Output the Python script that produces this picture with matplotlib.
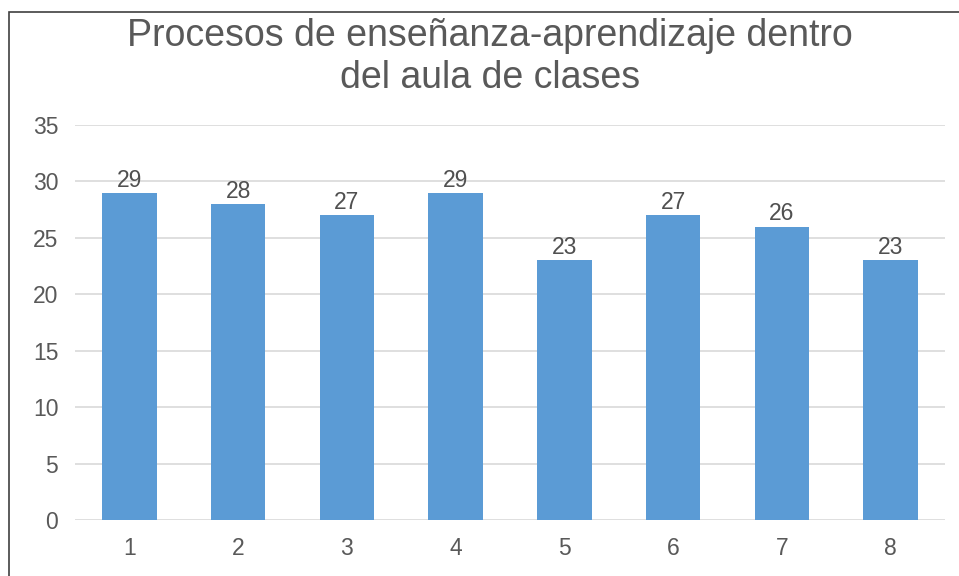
import matplotlib
matplotlib.use("Agg")
import matplotlib.pyplot as plt
from matplotlib.patches import Rectangle

categories = ["1", "2", "3", "4", "5", "6", "7", "8"]
values = [29, 28, 27, 29, 23, 27, 26, 23]
yticks = [0, 5, 10, 15, 20, 25, 30, 35]
title = "Procesos de enseñanza-aprendizaje dentro\ndel aula de clases"

plt.rcParams['font.family'] = ['Liberation Sans', 'DejaVu Sans']
W, H = 959, 576
fig = plt.figure(figsize=(W/100, H/100), dpi=100)
ax = fig.add_axes([75/W, 1-520/H, 870/W, 395/H])

x = list(range(1, len(categories)+1))
bars = ax.bar(x, values, width=0.5, color="#5B9BD5", zorder=3)
for xi, v in zip(x, values):
    ax.text(xi, v + 0.1, str(v), ha="center", va="bottom", fontsize=16.5, color="#505050", zorder=4)

ax.set_xlim(0.5, len(categories)+0.5)
ax.set_ylim(0, 35)
ax.set_yticks(yticks)
ax.set_xticks(x)
ax.set_xticklabels(categories)
ax.tick_params(axis='both', length=0, labelsize=16.5, colors="#595959")
ax.tick_params(axis='x', pad=12)
ax.tick_params(axis='y', pad=12)
ax.grid(axis='y', color="#D9D9D9", linewidth=1.2, zorder=0)
for s in ax.spines.values():
    s.set_visible(False)

fig.text(490/W, 1-57/H, title, ha="center", va="center", fontsize=27, color="#595959", linespacing=1.25)

fig.patches.append(Rectangle((9/W, -0.1), 1.1, (1-12/H)+0.1, transform=fig.transFigure,
                             fill=False, edgecolor="#404040", linewidth=1.2))
fig.savefig("out.png", dpi=100)
